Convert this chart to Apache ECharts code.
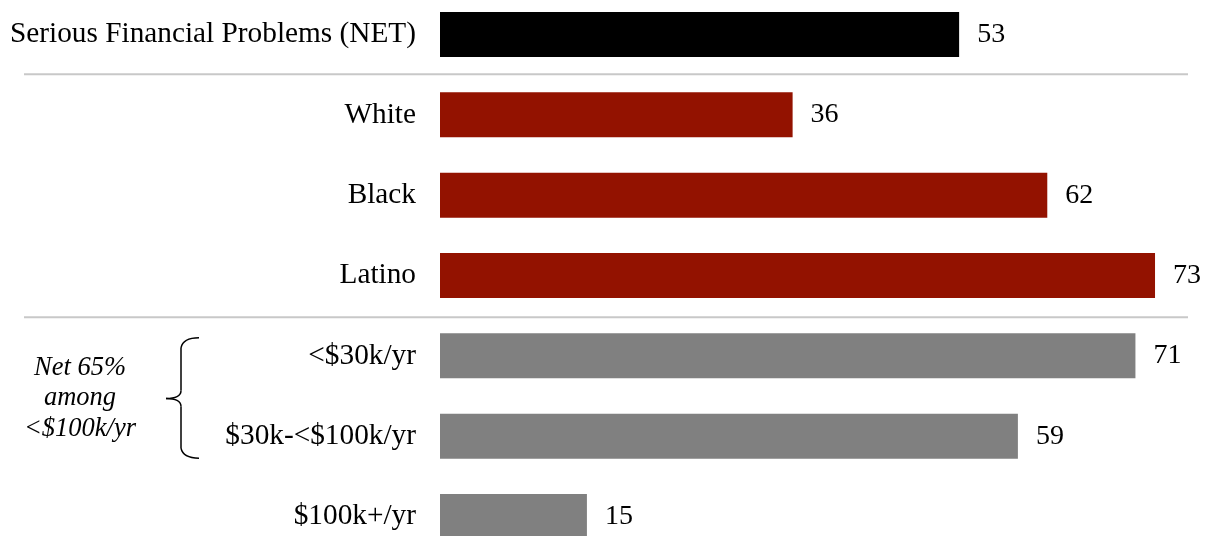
<!DOCTYPE html>
<html>
<head>
    <meta charset="utf-8">
    <script src="https://cdn.jsdelivr.net/npm/echarts@6/dist/echarts.min.js"></script>
    <style>
        html, body { margin: 0; padding: 0; background: #fff; }
    </style>
</head>
<body>
    <div id="main" style="width: 1205px;height:536px;"></div>

<script type="text/javascript">
// categories, top to bottom
var categories = ['Serious Financial Problems (NET)', 'White', 'Black', 'Latino',
                  '<$30k/yr', '$30k-<$100k/yr', '$100k+/yr'];
var values = [53, 36, 62, 73, 71, 59, 15];
var groups = ['net', 'race', 'race', 'race', 'income', 'income', 'income'];
var groupColors = { net: '#000000', race: '#931200', income: '#808080' };
// separators go after these category indexes
var separatorsAfter = [0, 3];
var noteLines = ['Net 65%', 'among', '<$100k/yr'];

var font = '"Liberation Serif", "Times New Roman", serif';

var myChart = echarts.init(document.getElementById('main'));

var option = {
    animation: false,
    grid: {
        left: 440,
        top: 34.5,
        width: 764,
        height: 482
    },
    xAxis: {
        type: 'value',
        min: 0,
        max: 78,
        show: false
    },
    yAxis: {
        type: 'category',
        inverse: true,
        boundaryGap: false,
        data: categories,
        axisLine: { show: false },
        axisTick: { show: false },
        axisLabel: {
            margin: 24,
            color: '#000',
            fontFamily: font,
            fontSize: 29.3
        }
    },
    series: [{
        type: 'bar',
        barWidth: 45,
        data: values.map(function (v, i) {
            return { value: v, itemStyle: { color: groupColors[groups[i]] } };
        }),
        label: {
            show: true,
            position: 'right',
            distance: 18,
            color: '#000',
            fontFamily: font,
            fontSize: 28
        }
    }]
};

myChart.setOption(option);

// separators and bracket placed from the axis scale
var graphics = [];
separatorsAfter.forEach(function (i, k) {
    var y = (myChart.convertToPixel({ yAxisIndex: 0 }, i) +
             myChart.convertToPixel({ yAxisIndex: 0 }, i + 1)) / 2 + (k ? 1.5 : -0.5);
    graphics.push({
        type: 'line',
        shape: { x1: 24, y1: y, x2: 1188, y2: y },
        style: { stroke: '#c8c8c8', lineWidth: 2 }
    });
});

var yA = myChart.convertToPixel({ yAxisIndex: 0 }, 4);
var yB = myChart.convertToPixel({ yAxisIndex: 0 }, 5);
var bTop = yA - 18, bBot = yB + 22, bMid = (yA + yB) / 2 + 2.5;
var stroke = { stroke: '#000', lineWidth: 1.5, fill: null };
graphics.push(
    { type: 'bezierCurve', shape: { x1: 199, y1: bTop, x2: 181, y2: bTop + 10, cpx1: 183, cpy1: bTop }, style: stroke },
    { type: 'line', shape: { x1: 181, y1: bTop + 10, x2: 181, y2: bMid - 8 }, style: stroke },
    { type: 'bezierCurve', shape: { x1: 181, y1: bMid - 8, x2: 166, y2: bMid, cpx1: 181, cpy1: bMid }, style: stroke },
    { type: 'bezierCurve', shape: { x1: 166, y1: bMid, x2: 181, y2: bMid + 8, cpx1: 181, cpy1: bMid }, style: stroke },
    { type: 'line', shape: { x1: 181, y1: bMid + 8, x2: 181, y2: bBot - 10 }, style: stroke },
    { type: 'bezierCurve', shape: { x1: 181, y1: bBot - 10, x2: 199, y2: bBot, cpx1: 183, cpy1: bBot }, style: stroke }
);
noteLines.forEach(function (t, k) {
    graphics.push({
        type: 'text',
        x: 80,
        y: bMid + (k - 1) * 30.5,
        style: {
            text: t,
            fill: '#000',
            font: 'italic 26.5px ' + font,
            align: 'center',
            verticalAlign: 'middle'
        }
    });
});
myChart.setOption({ graphic: graphics });
</script>
</body>
</html>
